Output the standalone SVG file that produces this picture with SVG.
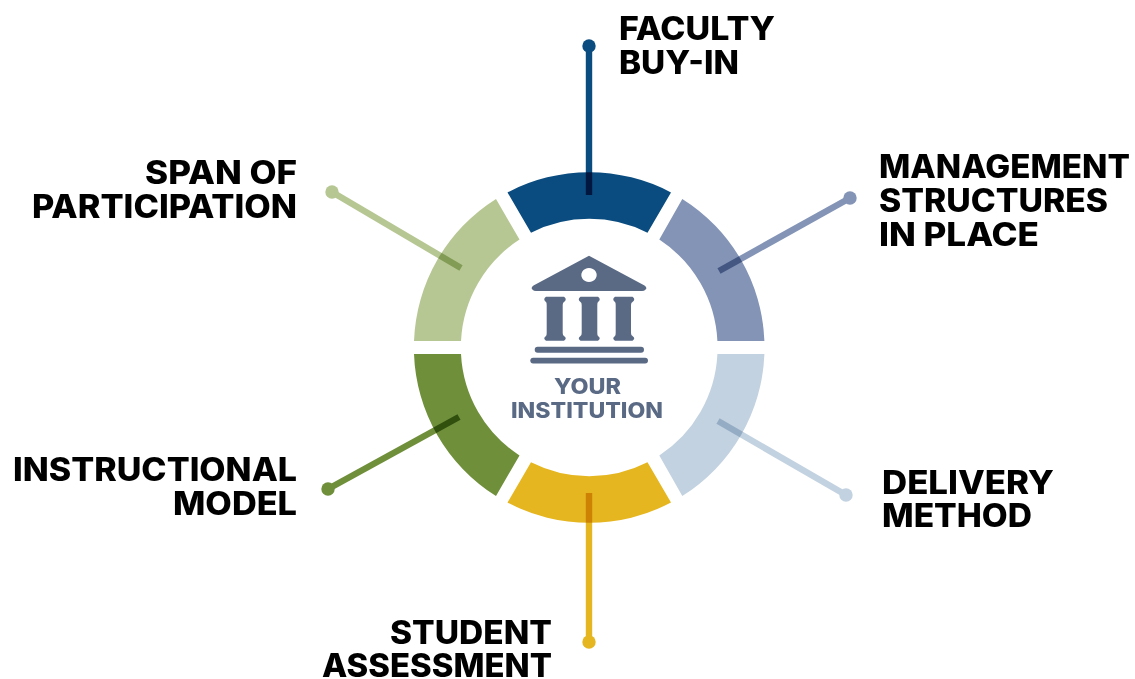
<svg xmlns="http://www.w3.org/2000/svg" width="1135" height="679" viewBox="0 0 1135 679">
<style>
text{font-family:"Inter","Liberation Sans",sans-serif;font-weight:800}
.l{font-size:32px;fill:#000}
.e{text-anchor:end}
.c{fill:#5a6a85;font-size:21.5px;text-anchor:middle}
.k{stroke-width:6.4;fill:none}
#connectors{mix-blend-mode:multiply}
.ico{fill:#5a6a85}
</style>
<rect width="1135" height="679" fill="#fff"/>
<g id="ring">
<path id="seg-faculty" fill="#0a4c7f" d="M507.5 192.4A175.5 175.5 0 0 1 671 192.4L647.5 232.8A128.5 128.5 0 0 0 531 232.8Z"/>
<path id="seg-management" fill="#8394b6" d="M682.3 198.9A175.5 175.5 0 0 1 764.4 341L717.4 341A128.5 128.5 0 0 0 659.3 239.6Z"/>
<path id="seg-delivery" fill="#c3d2e0" d="M764.4 354A175.5 175.5 0 0 1 682.3 496.1L659.3 455.4A128.5 128.5 0 0 0 717.4 354Z"/>
<path id="seg-assessment" fill="#e5b620" d="M671 502.6A175.5 175.5 0 0 1 507.5 502.6L531 462.2A128.5 128.5 0 0 0 647.5 462.2Z"/>
<path id="seg-instructional" fill="#6f8f3a" d="M496 496.1A175.5 175.5 0 0 1 414 354L461 354A128.5 128.5 0 0 0 519.5 455.4Z"/>
<path id="seg-span" fill="#b6c793" d="M414 341A175.5 175.5 0 0 1 496 198.9L519.5 239.6A128.5 128.5 0 0 0 461 341Z"/>
</g>
<g id="connectors">
<path class="k" stroke="#0a4c7f" d="M589 46V195"/>
<path class="k" stroke="#8394b6" d="M850 198L719 271"/>
<path class="k" stroke="#c3d2e0" d="M846 495L718 421"/>
<path class="k" stroke="#e5b620" d="M589 642V493"/>
<path class="k" stroke="#6f8f3a" d="M328 489L459 417"/>
<path class="k" stroke="#b6c793" d="M332 192L461 268"/>
</g>
<g id="dots">
<circle cx="589" cy="46" r="6.7" fill="#0a4c7f"/>
<circle cx="850" cy="198" r="6.7" fill="#8394b6"/>
<circle cx="846" cy="495" r="6.7" fill="#c3d2e0"/>
<circle cx="589" cy="642" r="6.7" fill="#e5b620"/>
<circle cx="328" cy="489" r="6.7" fill="#6f8f3a"/>
<circle cx="332" cy="192" r="6.7" fill="#b6c793"/>
</g>
<g id="center">
<g class="ico">
<path fill-rule="evenodd" d="M589 255.7L644.5 285.5Q648 288 645 290Q644.5 291 642 291H536Q533.5 291 533 290Q530 288 533.5 285.5ZM589 268a7.7 7 0 1 0 .01 0Z"/>
<path d="M546 296.7H564Q567.5 299.3 564 302Q562.7 302.5 562.7 305V333Q562.7 335.5 564 336Q567.5 338.3 564 340.7H546Q542.5 338.3 546 336Q546.7 335.5 546.7 333V305Q546.7 302.5 546 302Q542.5 299.3 546 296.7Z"/>
<path d="M580.5 296.7H598Q601.5 299.3 598 302Q597.3 302.5 597.3 305V333Q597.3 335.5 598 336Q601.5 338.3 598 340.7H580.5Q577 338.3 580.5 336Q581.7 335.5 581.7 333V305Q581.7 302.5 580.5 302Q577 299.3 580.5 296.7Z"/>
<path d="M615 296.7H632.5Q636 299.3 632.5 302Q631 302.5 631 305V333Q631 335.5 632.5 336Q636 338.3 632.5 340.7H615Q611.5 338.3 615 336Q615.7 335.5 615.7 333V305Q615.7 302.5 615 302Q611.5 299.3 615 296.7Z"/>
<rect x="534.7" y="346.7" width="109.3" height="6" rx="3"/>
<rect x="530.3" y="357.7" width="117.7" height="5.8" rx="2.9"/>
</g>
<text class="c" x="587.5" y="393.5" textLength="67" lengthAdjust="spacingAndGlyphs">YOUR</text>
<text class="c" x="587" y="418" textLength="152" lengthAdjust="spacingAndGlyphs">INSTITUTION</text>
</g>
<g id="node-faculty"><text class="l" x="619" y="40" textLength="156" lengthAdjust="spacingAndGlyphs">FACULTY</text><text class="l" x="619" y="74" textLength="120" lengthAdjust="spacingAndGlyphs">BUY-IN</text></g>
<g id="node-management"><text class="l" x="879" y="178" textLength="251" lengthAdjust="spacingAndGlyphs">MANAGEMENT</text><text class="l" x="879" y="212" textLength="229" lengthAdjust="spacingAndGlyphs">STRUCTURES</text><text class="l" x="879" y="246" textLength="160" lengthAdjust="spacingAndGlyphs">IN PLACE</text></g>
<g id="node-delivery"><text class="l" x="882" y="494" textLength="172" lengthAdjust="spacingAndGlyphs">DELIVERY</text><text class="l" x="882" y="527" textLength="150" lengthAdjust="spacingAndGlyphs">METHOD</text></g>
<g id="node-assessment"><text class="l e" x="552" y="644" textLength="162" lengthAdjust="spacingAndGlyphs">STUDENT</text><text class="l e" x="552" y="677" textLength="230" lengthAdjust="spacingAndGlyphs">ASSESSMENT</text></g>
<g id="node-instructional"><text class="l e" x="297" y="481" textLength="284" lengthAdjust="spacingAndGlyphs">INSTRUCTIONAL</text><text class="l e" x="297" y="515" textLength="124" lengthAdjust="spacingAndGlyphs">MODEL</text></g>
<g id="node-span"><text class="l e" x="297" y="184" textLength="152" lengthAdjust="spacingAndGlyphs">SPAN OF</text><text class="l e" x="297" y="218" textLength="265" lengthAdjust="spacingAndGlyphs">PARTICIPATION</text></g>
</svg>
